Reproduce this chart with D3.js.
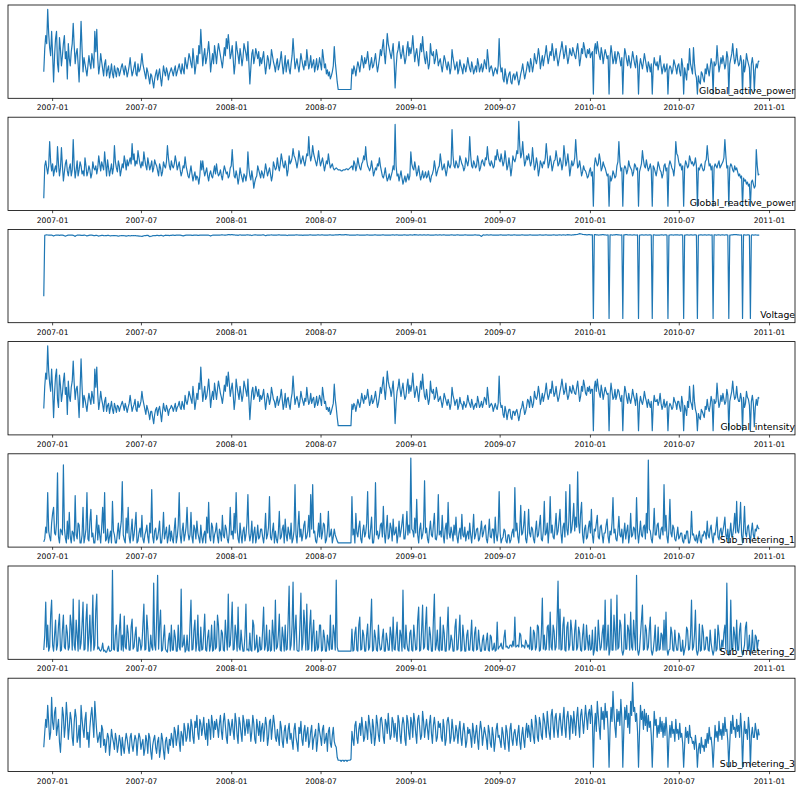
<!DOCTYPE html>
<html><head><meta charset="utf-8">
<script src="https://cdn.jsdelivr.net/npm/d3@7"></script>
<style>body{margin:0;background:#fff}svg{display:block}</style>
</head><body><div id="chart"></div>
<script>
const startDate = "2006-12-15", endDate = "2010-12-12";
const seriesNames = ["Global_active_power","Global_reactive_power","Voltage","Global_intensity","Sub_metering_1","Sub_metering_2","Sub_metering_3"];
const tickLabels = ["2007-01","2007-07","2008-01","2008-07","2009-01","2009-07","2010-01","2010-07","2011-01"];

const globalActivePower = [22,45,58,50,84,60,46,38,62,40,
12,38,55,62,30,22,56,44,28,38,50,58,35,42,15,50, 35,28,42,50,70,48,30,40,45,30,12,40,72,45, 22,36,30,24,18,28,38,30,25,40,34,26,62,42,64,35, 20,28,40,32,25,18,30,34,18,24,28,16,22,30, 20,16,28,22,17,26,25,18,22,27,30,24,19,28,24,17, 22,28,36,26,18,22,27,32,20,18,30,22,24,30,
40,30,25,20,15,26,22,16,10,20,18,12,6,15,20,24, 14,20,25,16,8,18,28,22,18,26,22,14,20,23, 26,22,18,24,28,18,22,26,30,24,20,30,24,20,36,30, 25,32,40,36,30,26,45,34,20,28,38,30,48,40,64,45, 28,38,45,30,35,42,52,40,22,32,40,30,48,40, 30,42,50,44,38,32,26,36,46,38,55,45,59,48,35,40,
48,35,20,30,52,44,38,30,45,38,28,36,50,45,40,33, 52,30,10,26,40,44,30,36,45,40,35,42,28,36, 30,36,42,30,20,28,38,34,25,30,44,38,32,28,22,30, 35,24,28,34,42,30,20,28,38,22,30,34,25,20, 30,38,55,40,25,30,35,28,22,30,40,34,28,24,33,28, 44,34,25,30,38,26,30,34,22,28,35,24,28,36,
30,24,44,36,26,30,20,24,18,22,15,18,22,28,47,32, 22,12,4.5,4.5,4.5,4.5,4.5,4.5,4.5,4.5,4.5,4.5,4.5,4.5,4.5,4.5, 25,20,28,24,18,26,32,28,22,30,38,32,26,36, 30,34,42,32,24,30,36,26,28,34,40,30,22,28,35,44, 38,46,54,40,30,44,60,50,45,40,35,42,50,32, 6,26,40,44,52,42,35,40,48,38,30,35,45,52,38,46,
40,46,58,44,32,40,45,36,28,40,50,42,57,44,35,30, 42,34,25,30,50,40,38,42,30,34,44,38,28,32, 35,28,22,30,38,34,28,24,32,28,20,26,44,36,30,24, 28,32,20,24,34,28,25,20,30,27,22,28,36,30, 25,22,32,27,20,24,28,22,35,30,22,26,30,22,26,34, 30,25,44,34,22,26,28,24,18,22,26,24,20,28,
55,30,22,26,15,12,25,18,10,16,20,22,12,10,18,20, 14,18,22,15,9,14,20,24,30,22,15,20,25,32, 28,22,35,30,22,28,40,34,30,36,45,38,25,32,38,28, 35,40,48,38,30,36,42,38,50,42,33,38,45,36,28,34, 40,45,52,44,35,40,48,38,30,36,45,40,38,46, 42,38,35,44,50,40,28,35,45,40,51,46,38,36,44,40,
45,36,40,42,0,44,50,40,52,44,38,34,46,40,30,38, 44,40,35,38,0,36,48,40,30,34,42,30,36,42, 40,34,28,36,0,32,45,40,33,28,38,32,26,34,42,36, 30,26,38,30,0,28,35,30,25,32,40,34,28,22, 32,28,22,30,0,26,36,30,28,32,24,30,38,28,20,26, 30,22,25,30,0,24,28,26,20,24,34,30,26,20,
28,30,22,18,35,28,0,26,20,14,30,24,45,30,25,20, 46,30,20,16,0,18,12,10,22,20,15,12,25,20, 30,24,18,26,35,30,0,32,28,30,48,34,22,28,36,30, 38,32,25,30,42,36,0,30,35,40,50,38,30,34, 45,34,28,30,38,32,0,34,22,28,40,34,30,26,0,30, 36,28,3,24,30,26,32,33];

const globalReactivePower = [8,40,45,38,32,40,64,44,35,42,
30,36,40,34,59,42,30,38,58,40,25,34,42,46,35,30, 38,42,30,36,66,40,28,36,45,30,36,44,40,32, 35,30,48,40,30,34,40,36,28,32,44,38,36,40,32,38, 50,42,35,44,40,36,54,42,30,46,38,30,36,42, 32,38,60,44,38,34,45,40,30,36,42,38,50,44,36,46, 40,44,48,42,62,46,52,40,45,42,55,48,42,38,
44,40,54,46,40,36,48,42,36,40,45,34,38,46,42,40, 35,30,42,38,30,34,44,40,38,44,60,48,40,36, 45,40,38,42,50,44,36,40,44,36,30,34,40,38,49,40, 35,30,28,34,40,32,25,30,34,26,30,28,22,30,45,36, 45,36,30,34,38,30,25,32,35,30,28,34,40,32, 42,34,30,32,36,30,26,34,40,36,32,34,28,30,38,40,
56,40,30,28,35,30,22,28,38,32,28,24,32,30,25,32, 54,38,30,26,35,28,18,24,28,30,40,36,32,28, 35,32,28,34,42,36,30,34,38,32,25,30,44,40,36,38, 48,40,35,42,52,46,40,38,45,40,30,36,50,42, 44,48,57,50,48,44,38,44,55,48,42,46,50,44,40,46, 52,50,69,52,45,50,60,52,48,44,40,46,55,46,
40,44,48,42,35,40,45,42,52,44,38,40,42,38,36,37, 38,37,36,36,36,35,35,36,36,36,37,37,36,37,38,39, 40,36,45,42,35,40,48,42,38,36,42,44,50,46, 59,46,40,38,35,38,45,38,30,34,38,36,42,40,48,40, 35,30,28,32,38,30,25,28,32,26,30,34,40,36, 81,40,30,32,25,30,35,28,22,26,30,24,28,32,26,30,
54,42,38,36,44,38,30,34,40,32,26,30,35,28,30,34, 28,30,35,28,24,30,32,36,45,38,30,34,38,40, 52,44,36,38,42,36,30,36,45,40,38,42,76,50,40,38, 45,42,38,40,50,46,42,40,35,38,48,44,40,46, 69,50,40,38,45,42,38,40,50,44,35,38,44,46,42,40, 48,46,59,48,42,40,45,42,38,40,50,46,56,50,
46,44,52,46,40,44,55,46,36,40,48,40,30,38,50,46, 44,48,55,52,84,60,48,52,64,50,40,44,50,46, 52,46,40,44,58,46,36,40,48,42,30,36,45,42,38,44, 42,48,62,50,38,42,50,44,35,40,45,46,55,48,40,42, 48,44,36,42,60,50,40,44,52,42,30,38,45,40, 42,48,66,50,38,40,45,38,30,34,40,36,35,32,28,30,
35,38,30,34,0,40,48,44,40,42,52,46,35,38,44,40, 38,34,30,32,0,30,25,28,35,32,28,30,40,44, 64,44,35,38,0,36,40,38,32,36,45,40,38,36,30,34, 42,40,36,38,0,34,38,42,55,46,40,38,46,40, 35,38,42,36,0,40,38,34,30,36,44,40,36,34,28,32, 40,42,35,38,0,40,45,42,38,36,30,40,64,52,
50,44,40,42,36,40,0,38,45,42,38,40,50,46,42,44, 40,42,48,40,0,38,36,40,42,38,35,36,44,46, 60,48,40,42,36,40,0,38,42,40,38,42,45,38,40,42, 44,48,66,50,38,40,0,38,42,40,36,34,40,36, 38,34,30,32,28,30,0,28,25,26,22,24,20,22,0,24, 26,22,18,20,56,40,31,32];

const voltage = [64,240,241,241.5,241,240.5,240.5,241,241,239.5,
238,239.5,240.5,241,241,240.5,240,240.5,241,240.5,240,239,237.5,239,240,240.5, 240.5,241,241,240.5,240,239,237,239.5,240.5,241,241,240.5,240,240, 240,240.5,240.5,239.5,238,239.5,240,240.5,241,240.5,240,239.5,239.5,240,240,239, 238,239,239.5,240,240,239.5,239,239.5,239.5,240,240,239,238.5,239, 239,239.5,239.5,239,239,238.5,237.5,238.5,239,239.5,239.5,239,239,238.5,238,238.5, 239,239,238.5,239,239,239.5,239.5,239,239,238.5,238.5,238,238,237.5,
237,238,239,239.5,239.5,240,240,238.5,236.5,237.5,238,239,239,239.5,239.5,240, 240,239.5,239.5,240,240,239,238,239.5,240.5,240,240,240,239.5,240, 240,240.5,240.5,240,240,240.5,240.5,241,241,240.5,240,239.5,238,239.5,240,240.5, 240.5,241,241,240.5,240.5,240,240,240.5,241,240.5,240.5,240,240,240.5,241,240.5, 240.5,241,241,241,241,240.5,240.5,239.5,238,239.5,240.5,241,241,241, 241,240.5,240.5,241,241,241.5,241.5,241,240.5,241,241,241.5,242,242,241.5,242,
242,241.5,241.5,241,241,240.5,240,241,241.5,241,241,240.5,240.5,241,241,241.5, 241.5,241,241,240.5,239.5,240.5,241,241.5,241.5,241,241,240.5,240.5,241, 241,241.5,241.5,240.5,239,240,241,240.5,240.5,241,241.5,241,241,240.5,240.5,241, 241,241.5,241.5,241,241,240.5,240.5,241,241,240.5,239.5,240.5,241,241, 241,240.5,240.5,241,241,241.5,241.5,241,240.5,241,241,240.5,240,240.5,241,240.5, 240.5,241,241,241.5,241.5,241,241,240.5,240.5,241,241,241.5,241.5,241,
241,241.5,241.5,241,241,240.5,240.5,241,241,241.5,241.5,241,241,241,241,241.5, 241.5,241.5,241.5,242,242,241.5,241.5,241.5,241.5,242,242,241.5,241.5,241,241,241, 241,240.5,240.5,241,241,241.5,241.5,241,241,240.5,240.5,241,241,241, 241,241.5,241.5,241,241,240.5,240.5,241,241,241.5,241.5,241,241,240.5,240.5,241, 241,241.5,241.5,241,241,241,241,240.5,240.5,241,241,241.5,241.5,241, 241,241.5,241.5,241,241,240.5,240.5,241,241,241.5,241.5,241,241,241,241,241.5,
241.5,241,241,241.5,242,241.5,241.5,241,241,241.5,241.5,241,241,241.5,241.5,241, 241,241.5,241.5,241,241,240.5,240.5,241,241,241.5,241.5,241,241,241.5, 241.5,241,241,241.5,241.5,241,241,240.5,240.5,241,241,241.5,241.5,241,241,241, 241,241.5,241.5,241,241,240.5,240.5,241,241,241.5,241.5,241,241,241, 241,240.5,240.5,241,241,241.5,241.5,241,241,240.5,240.5,239,237,239.5,241.5,241, 241,241.5,241.5,241,241,241.5,241.5,241,241,240.5,240.5,241,241,241,
241,241.5,241.5,241,241,240.5,240.5,241,241,241.5,241.5,241,241,241,241,241.5, 241.5,241,241,240.5,240.5,241,241,241.5,241.5,241,241,240.5,240.5,241, 241,241.5,241.5,241,241,241,241,240.5,240.5,241,241,241.5,241.5,241,241,241, 241,241.5,241.5,241,241,240.5,240.5,241,241,241.5,241.5,241,241,241,241,241.5, 241.5,241,241,241.5,241.5,241,241,241.5,242,241.5,241.5,241,241,241.5, 241.5,242,242,242.5,243,244,245,244.5,244,243,242.5,242,242,241.5,241.5,242,
242,241.5,241.5,241.5,0,242,242,241.5,241.5,241,241,241.5,241.5,242,242,241.5, 241.5,241,241,241.5,0,241.5,241.5,241,241,241.5,241.5,242,242,241.5, 241.5,241,241,241.5,0,241.5,241.5,242,242,241.5,241,241.5,241.5,241,241,241.5, 241.5,241,241,241.5,0,241,241,241.5,241.5,241,241,241.5,241.5,241, 241,241.5,241.5,241,0,241.5,241.5,241,241,240.5,240.5,241,241,241.5,241.5,241, 241,241.5,241.5,241,0,241,241,241.5,241.5,241,241,241.5,241.5,241.5,
241.5,241,241,241.5,241.5,241,0,241,241,241.5,241.5,241,241,241.5,241.5,241, 241,241.5,241.5,241,0,241,241,241.5,241.5,241,241,241.5,241.5,241, 241,241.5,241.5,241,241,241.5,0,241.5,241.5,241,241,241.5,241.5,241,241,241.5, 241.5,241,241,241.5,241.5,241,0,241,241,241.5,241.5,242,242,242, 242,241.5,241.5,241,241,241.5,0,241.5,241.5,241,241,241.5,241.5,241,0,241, 241.5,241,241,241.5,241,240.5,240.5,240.5];

const globalIntensity = [22,44,57,51,84,59,47,39,61,41,
13,37,54,61,31,23,55,45,29,37,49,57,36,43,16,49, 34,29,43,49,69,47,31,41,44,31,13,41,71,44, 23,35,31,25,19,29,37,31,26,39,33,27,61,43,63,36, 21,29,39,31,26,19,29,33,19,25,27,17,23,29, 21,17,27,23,18,25,24,19,23,26,29,25,20,27,23,18, 23,27,35,27,19,23,26,31,21,19,29,23,25,29,
39,31,26,21,16,25,21,17,11,19,19,13,7,16,21,23, 15,21,24,17,9,19,27,21,19,25,21,15,21,22, 25,23,19,23,27,19,23,25,29,23,21,29,25,21,35,29, 26,31,39,35,31,27,44,33,21,29,37,31,47,41,63,44, 29,37,44,31,34,41,51,39,23,33,39,31,47,39, 31,41,49,43,37,33,27,35,45,39,54,44,58,47,34,41,
47,36,21,31,51,43,37,31,44,37,29,35,49,44,39,34, 51,31,11,27,39,43,31,35,44,39,34,41,29,35, 31,35,41,31,21,29,37,33,26,31,43,37,31,29,23,29, 34,25,29,33,41,31,21,27,37,23,31,33,26,21, 31,37,54,39,26,31,34,29,23,29,39,33,29,25,32,29, 43,33,26,29,37,27,31,33,23,27,34,25,29,35,
31,25,43,35,27,29,21,23,19,23,16,19,23,27,46,31, 23,13,5,5,5,5,5,5,5,5,5,5,5,5,5,5, 26,21,27,25,19,25,31,27,23,29,37,31,27,35, 31,33,41,33,25,29,35,27,29,33,39,31,23,27,34,43, 37,45,53,41,31,43,59,49,44,41,34,41,49,33, 7,27,39,43,51,41,34,41,47,37,31,34,44,51,37,45,
39,45,57,43,33,39,44,37,29,39,49,41,56,43,34,31, 41,33,26,31,49,39,37,41,31,33,43,37,29,31, 34,29,23,29,37,33,29,25,31,27,21,27,43,35,31,25, 29,31,21,25,33,27,26,21,29,26,23,27,35,29, 26,23,31,26,21,25,27,23,34,29,23,25,29,23,27,33, 31,26,43,33,23,25,27,25,19,23,27,23,21,27,
54,29,23,25,16,13,24,19,11,17,21,21,13,11,19,19, 15,19,21,16,10,15,21,23,29,23,16,19,24,31, 29,23,34,29,23,27,39,33,31,35,44,37,26,31,37,29, 34,39,47,37,31,35,41,37,49,41,34,37,44,35,29,33, 39,44,51,43,36,39,47,37,31,35,44,39,37,45, 41,37,36,43,49,39,29,34,44,39,50,45,37,35,43,39,
44,37,41,41,0,43,49,39,51,43,37,33,45,39,31,37, 43,39,36,37,0,35,47,39,31,33,41,31,35,41, 39,33,29,35,0,31,44,39,32,27,37,31,27,33,41,35, 31,25,37,29,0,27,34,29,26,31,39,33,29,23, 31,27,23,29,0,25,35,29,29,31,25,29,37,27,21,25, 31,23,26,29,0,23,27,25,21,23,33,29,27,21,
29,29,23,19,34,27,0,25,21,15,29,23,44,29,26,21, 45,29,21,17,0,17,13,11,21,19,16,13,24,21, 31,23,19,25,34,29,0,31,27,29,47,33,23,27,35,29, 37,31,26,29,41,35,0,29,34,39,49,37,31,33, 44,33,29,29,37,31,0,33,23,27,39,33,31,25,0,29, 35,27,4,23,31,25,33,32];

const subMetering1 = [1,4,16,10,51,12,6,2,20,30,
36,10,8,20,71,6,0,14,12,8,79,15,5,0,22,4, 31,6,0,12,10,2,48,8,4,20,18,0,0,8, 36,0,6,14,51,4,2,22,34,6,10,0,0,12,28,3, 18,8,0,16,36,10,51,2,4,14,0,6,12,0, 42,12,8,0,0,10,20,4,14,22,62,8,3,0,25,10, 36,6,0,12,24,2,8,18,31,0,2,10,15,6,
28,4,0,8,12,18,6,0,20,10,54,6,0,12,15,3, 5,12,22,0,0,10,31,4,10,16,0,6,18,2, 12,4,0,14,25,0,6,18,51,8,0,12,20,2,8,16, 36,10,3,8,31,6,0,18,14,4,22,10,5,0,18,6, 0,8,12,0,26,10,41,6,2,20,16,0,8,12, 20,6,0,14,10,2,28,8,5,18,14,4,0,10,36,8,
12,4,30,10,51,14,4,0,20,8,0,12,16,2,8,20, 49,10,2,8,22,0,10,16,0,6,18,4,6,14, 14,6,0,10,30,4,8,16,47,6,3,12,20,0,12,4, 0,10,32,4,6,14,18,0,24,8,2,16,10,4, 20,0,4,12,59,8,0,16,32,6,14,2,8,18,22,4, 6,12,28,6,49,14,59,10,12,2,0,8,20,6,
30,4,10,20,18,0,3,12,32,6,8,14,0,6,14,8, 5,2,0,0,0,0,0,0,0,0,0,0,0,0,0,0, 47,8,14,0,30,10,6,16,22,4,0,12,18,6, 10,20,52,6,4,14,26,0,0,10,61,8,12,4,8,18, 20,6,37,10,0,14,28,4,6,20,15,2,24,8, 10,16,0,8,22,6,12,20,29,4,4,14,32,8,18,10,
86,14,12,6,25,10,44,8,0,14,20,4,8,16,63,10, 15,4,0,12,22,8,6,18,30,4,3,10,49,8, 12,6,28,8,0,14,20,4,41,10,5,16,10,2,18,8, 26,6,0,10,15,4,29,8,6,16,2,8,12,4, 20,8,0,12,29,4,8,14,15,2,4,12,22,6,10,16, 18,4,0,10,24,6,5,14,14,0,26,8,2,12,
52,10,0,4,6,14,12,2,0,8,8,0,3,10,14,6, 56,12,20,6,0,14,38,8,10,18,32,4,0,10, 34,10,6,16,14,4,0,12,22,6,8,18,28,4,2,12, 42,8,10,20,0,14,47,10,18,6,4,16,30,8,12,22, 34,10,0,16,20,6,52,14,8,22,59,10,14,24, 40,12,26,16,72,20,10,30,41,8,0,14,18,4,6,16,
22,10,34,8,0,14,12,20,28,6,4,16,18,8,0,10, 10,18,24,6,0,12,8,20,46,10,14,4,2,12, 27,8,6,14,0,10,20,4,12,18,0,8,30,6,8,16, 14,4,46,12,0,10,22,8,6,16,18,4,30,10, 84,14,12,4,0,12,35,8,8,18,20,6,4,14,16,8, 59,12,28,6,0,14,44,10,6,18,15,4,2,8,
16,4,6,10,10,2,0,8,4,12,12,0,0,6,32,8, 9,4,2,8,0,6,12,2,0,8,7,12,10,4, 22,8,5,14,18,6,0,10,8,16,26,6,3,12,15,6, 12,18,26,8,4,14,0,10,20,6,8,16,30,10, 42,12,10,20,41,8,0,14,37,10,6,16,18,8,0,12, 20,8,4,14,12,18,15,14];

const subMetering2 = [5,20,53,8,30,4,8,40,55,10,
4,20,35,5,10,30,41,4,5,25,40,8,6,30,22,5, 8,40,30,5,56,10,5,35,20,4,55,6,12,30, 53,5,6,35,51,4,18,40,4,22,60,5,10,45,61,6, 8,5,4,6,12,4,5,3,3,6,9,4,4,5, 85,6,5,20,30,4,4,25,41,5,20,4,39,8,6,30, 22,5,5,28,36,6,8,20,28,4,4,18,15,5,
10,30,51,5,6,40,25,4,4,20,8,5,72,10,5,35, 80,6,30,45,4,5,18,30,6,4,3,15,22,4, 30,5,5,25,18,4,4,30,8,5,66,8,10,20,3,5, 20,5,4,30,55,5,6,25,35,4,12,40,5,4,28,5, 6,22,41,5,4,18,25,4,10,30,4,5,34,6, 8,40,30,4,5,25,22,5,4,35,18,5,61,8,10,28,
53,5,6,30,20,4,48,8,5,25,12,4,4,20,51,5, 6,4,22,5,4,35,30,5,8,20,3,4,18,5, 6,25,48,5,10,30,4,5,25,4,5,35,20,4,55,6, 8,20,41,5,4,28,18,4,30,5,6,35,69,5, 10,30,73,5,25,40,5,4,4,30,62,5,12,45,30,5, 51,5,6,30,45,4,20,35,4,5,24,5,8,30,
30,4,5,25,18,4,4,20,12,5,40,6,6,30,22,5, 75,8,4,4,4,4,4,4,4,4,4,4,4,4,4,4, 26,4,5,22,28,5,4,30,38,5,6,25,20,4, 4,20,31,5,8,30,56,4,5,25,18,5,4,30,12,5, 6,18,26,4,4,22,15,5,5,28,20,4,38,6, 5,20,33,5,4,25,20,4,65,8,6,30,12,5,4,22,
25,5,4,30,18,5,6,35,48,4,5,25,50,6,8,30, 48,6,5,28,20,4,4,35,61,5,10,25,6,4, 38,5,5,30,22,4,4,25,48,5,8,20,15,4,4,28, 36,5,6,22,40,4,5,30,18,4,4,20,25,5, 5,18,35,5,4,22,28,5,6,25,12,4,4,15,20,5, 5,15,22,5,4,20,18,5,6,12,4,5,33,6,
8,9,12,7,6,18,25,8,9,7,7,10,10,8,14,9, 38,8,9,10,8,22,20,8,10,9,7,15,12,8, 10,6,28,5,6,25,22,5,8,30,28,4,5,22,57,6, 20,5,6,28,30,5,43,8,5,30,24,5,8,35,74,6, 46,5,6,30,38,5,4,28,33,5,10,35,25,5, 5,25,35,5,8,28,22,5,4,20,31,5,6,30,15,5,
20,5,6,25,0,5,28,5,4,35,18,5,8,22,30,5, 55,5,10,30,0,6,56,5,5,40,22,5,60,6, 8,35,30,5,0,5,41,6,6,30,25,5,43,8,5,35, 18,5,80,6,0,5,20,35,50,5,6,30,25,5, 8,25,38,5,0,5,15,30,4,5,28,5,6,22,20,5, 35,5,43,6,0,5,6,28,22,5,4,25,12,5,
5,22,18,4,4,15,0,5,10,28,25,5,6,20,55,5, 8,20,45,5,0,5,31,4,5,30,23,5,6,18, 18,5,4,25,12,5,0,5,26,4,6,30,20,5,5,15, 8,22,30,5,72,6,0,5,55,5,6,28,20,5, 35,5,5,25,32,5,0,5,10,28,33,5,6,20,0,5, 25,5,4,20,18,5,15,14];

const subMetering3 = [20,35,48,40,62,45,28,35,70,45,
38,55,60,32,40,48,25,15,35,60,52,30,42,65,50,28, 40,55,48,30,22,45,58,50,25,30,42,20,62,48, 38,30,48,55,28,35,20,40,52,60,45,30,66,50,35,25, 30,35,20,42,38,22,28,15,25,34,30,12,24,38, 30,25,18,34,28,15,22,32,26,12,30,20,14,26,34,28, 20,14,30,34,22,16,25,32,28,12,26,34,30,18,
24,28,12,18,32,26,14,34,30,16,8,22,28,32,20,14, 26,30,10,18,34,28,16,8,26,30,20,14,28,22, 34,28,20,40,36,22,30,42,26,16,36,32,22,44,38,26, 30,44,38,26,48,42,30,24,46,40,52,34,28,48,44,32, 40,50,34,28,44,22,48,40,28,52,44,30,46,38, 48,40,30,44,52,36,28,46,54,42,30,24,48,44,32,40,
48,36,28,54,46,32,24,50,44,34,26,52,46,32,40,48, 34,48,40,26,36,52,44,28,24,48,40,32,46,26, 40,44,26,38,50,42,22,30,46,48,28,40,52,44,30,26, 38,30,22,46,40,26,20,36,42,30,24,38,44,28, 34,26,18,38,44,30,24,16,40,34,46,28,22,36,42,26, 34,40,20,26,36,42,18,28,32,38,16,26,44,36,
30,22,38,42,24,28,34,16,36,40,24,20,32,40,26,22, 20,10,7,7,7,6,7,7,6,7,7,6,7,7,7,8, 36,28,22,42,46,30,24,38,44,32,50,40,26,30, 46,38,28,52,44,34,24,48,40,22,30,52,44,32,26,48, 50,42,30,24,48,44,34,54,40,28,32,50,46,30, 44,34,26,52,46,32,24,42,50,44,28,22,52,46,34,28,
50,44,30,54,46,34,24,48,52,40,28,32,56,46,30,40, 48,38,28,44,52,34,24,42,50,40,26,30,46,40, 44,30,26,48,40,22,28,46,50,42,24,30,48,38,26,30, 42,36,24,38,46,30,22,36,44,34,20,26,40,34, 38,30,20,44,36,24,34,42,28,18,36,46,38,22,32,40, 34,28,18,42,36,24,20,40,32,16,26,38,44,30,
32,26,20,40,34,24,18,42,36,26,16,38,44,28,22,34, 38,30,22,34,42,26,18,32,40,28,20,36,44,30, 42,34,26,48,40,30,24,52,46,30,26,50,44,32,28,54, 48,40,30,56,44,34,28,52,58,42,30,50,54,38,30,46, 54,42,32,48,60,40,30,50,56,44,28,52,48,34, 56,44,32,50,60,42,30,52,58,46,34,48,62,50,38,54,
58,44,62,50,0,40,54,36,66,52,40,28,60,48,56,38, 64,50,56,38,0,38,60,46,76,54,40,30,58,46, 56,42,68,50,0,36,60,48,62,40,54,34,66,52,85,56, 60,46,54,36,0,34,62,48,56,38,58,42,54,36, 52,40,46,32,0,30,56,42,48,30,42,34,50,36,46,30, 44,32,50,36,0,28,42,30,46,34,38,26,48,34,
38,28,44,30,34,24,0,22,40,30,36,24,42,30,30,24, 26,18,32,22,0,18,24,14,30,20,22,16,28,20, 34,24,40,28,30,20,0,20,42,30,36,26,46,32,38,28, 44,32,50,36,38,26,0,24,46,34,52,38,40,30, 48,36,42,30,54,38,0,30,46,34,38,28,50,38,0,32, 40,30,30,44,36,28,38,32];

const seriesValues = [globalActivePower, globalReactivePower, voltage, globalIntensity, subMetering1, subMetering2, subMetering3];

const W = 800, H = 790;
const xLeft = 8, xRight = 795;
const panelTop0 = 5, panelStep = 112.2, panelH = 93.3;

const svg = d3.select("#chart").append("svg").attr("width", W).attr("height", H);
const parseDay = d3.utcParse("%Y-%m-%d");
const parseMonth = d3.utcParse("%Y-%m");
const t0 = parseDay(startDate).getTime(), t1 = parseDay(endDate).getTime();
const padT = (t1 - t0) * 0.05;
const x = d3.scaleUtc().domain([new Date(t0 - padT), new Date(t1 + padT)]).range([xLeft, xRight]);
const tickDates = tickLabels.map(s => parseMonth(s));

seriesNames.forEach((name, k) => {
  const vals = seriesValues[k];
  const top = panelTop0 + k * panelStep, bottom = top + panelH;
  const n = vals.length;
  const data = vals.map((v, i) => ({ d: new Date(t0 + i * (t1 - t0) / (n - 1)), v }));
  const [mn, mx] = d3.extent(vals);
  const r = mx - mn;
  const y = d3.scaleLinear().domain([mn - 0.05 * r, mx + 0.05 * r]).range([bottom, top]);

  svg.append("path").datum(data)
    .attr("fill", "none").attr("stroke", "#1f77b4").attr("stroke-width", 1.2)
    .attr("stroke-linejoin", "round")
    .attr("d", d3.line().x(d => x(d.d)).y(d => y(d.v)));

  svg.append("text").attr("x", xRight).attr("y", bottom - 4.5)
    .attr("text-anchor", "end").attr("font-family", "DejaVu Sans").attr("font-size", 9.3)
    .attr("fill", "#000").text(name);

  svg.append("rect").attr("x", xLeft).attr("y", top).attr("width", xRight - xLeft).attr("height", panelH)
    .attr("fill", "none").attr("stroke", "#000").attr("stroke-width", 0.8);

  const axis = d3.axisBottom(x).tickValues(tickDates).tickFormat((d, i) => tickLabels[i])
    .tickSize(2.7).tickPadding(4);
  const ag = svg.append("g").attr("transform", `translate(0,${bottom})`).call(axis);
  ag.select(".domain").remove();
  ag.selectAll("text").attr("font-family", "DejaVu Sans").attr("font-size", 7.6).attr("fill", "#000");
  ag.selectAll("line").attr("stroke", "#000").attr("stroke-width", 0.7);
});
</script></body></html>
